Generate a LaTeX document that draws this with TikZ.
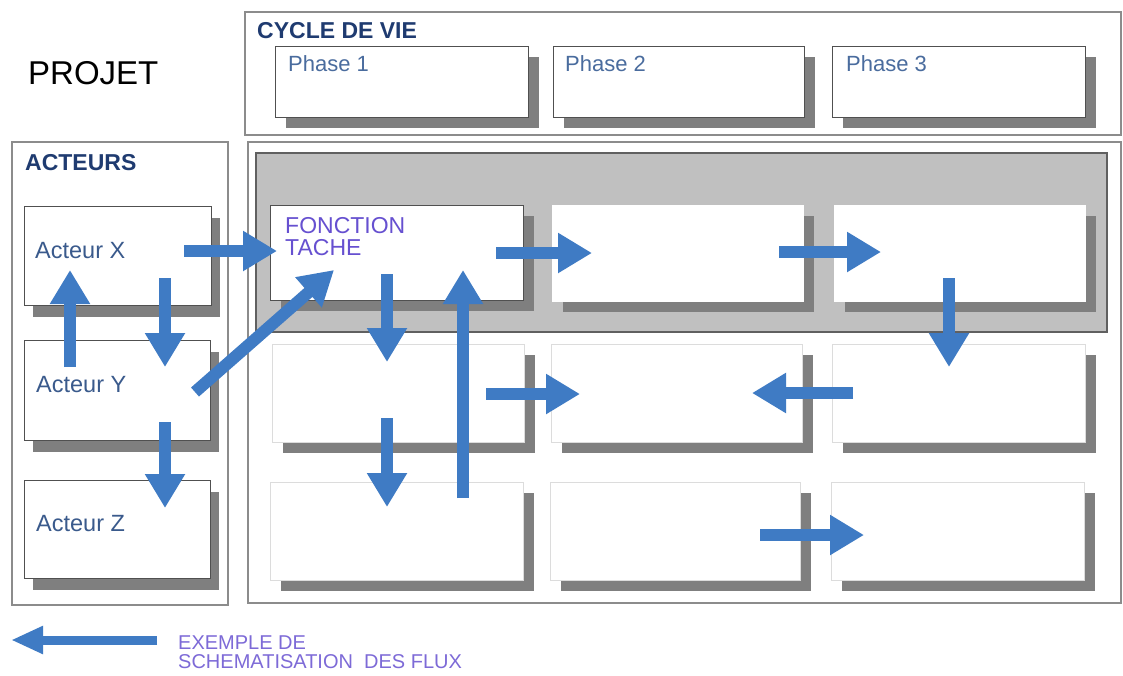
\documentclass[tikz,border=0pt]{standalone}
\usepackage{fontspec}
\setmainfont{Liberation Sans}
\usetikzlibrary{arrows.meta,shadows}
\definecolor{arrowblue}{HTML}{3F7BC4}
\definecolor{shgray}{HTML}{7F7F7F}
\definecolor{bandgray}{HTML}{C0C0C0}
\definecolor{banddraw}{HTML}{606060}
\definecolor{titleblue}{HTML}{1F3B70}
\definecolor{labelblue}{HTML}{3A5A8C}
\definecolor{phaseblue}{HTML}{4A6C9E}
\definecolor{purp}{HTML}{6650D0}
\definecolor{framegray}{HTML}{8C8C8C}
\definecolor{boxdark}{HTML}{505050}
\definecolor{boxlight}{HTML}{DCDCDC}
\begin{document}
\begin{tikzpicture}[x=1pt,y=-1pt,
  framebox/.style={draw=framegray, line width=1.2pt},
  sbox/.style={draw=#1, fill=white, line width=1pt, anchor=north west, inner sep=0pt, outer sep=0pt,
     drop shadow={shadow xshift=11pt, shadow yshift=-11pt, fill=shgray, opacity=1}},
  abox/.style={draw=#1, fill=white, line width=1pt, anchor=north west, inner sep=0pt, outer sep=0pt,
     drop shadow={shadow xshift=9pt, shadow yshift=-12pt, fill=shgray, opacity=1}},
  flow/.style={draw=arrowblue, line width=12pt, -{Triangle[width=38pt,length=34pt]}},
  legendflow/.style={draw=arrowblue, line width=9pt, -{Triangle[width=26pt,length=32pt]}},
  lbl/.style={anchor=base west, inner sep=0pt, text=labelblue, font=\fontsize{23.5}{27}\selectfont},
  phaselbl/.style={anchor=base west, inner sep=0pt, text=phaseblue, font=\fontsize{22}{26}\selectfont},
  ttl/.style={anchor=base west, inner sep=0pt, text=titleblue, font=\fontsize{23}{27}\selectfont\bfseries},
  purplbl/.style={anchor=base west, inner sep=0pt, text=purp, font=\fontsize{23}{27}\selectfont},
  leglbl/.style={anchor=base west, inner sep=0pt, text=purp!85!white, font=\fontsize{20}{22}\selectfont}
]
\useasboundingbox[fill=white] (0,0) rectangle (1123,675);

% frames
\draw[framebox] (245,12) rectangle (1121,135);
\draw[framebox] (12,142) rectangle (228,605);
\draw[framebox] (248,142) rectangle (1121,603);
\draw[draw=banddraw, fill=bandgray, line width=1.2pt] (256,153) rectangle (1107,332);

% titles
\node[anchor=base west, inner sep=0pt, font=\fontsize{33}{36}\selectfont] (projet) at (28,84) {PROJET};
\node[ttl] (cycle) at (257,38) {CYCLE DE VIE};
\node[ttl] (acteurs) at (25,170) {ACTEURS};

% phases
\node[sbox=boxdark, minimum width=253pt, minimum height=71pt] (p1) at (275,46) {};
\node[sbox=boxdark, minimum width=251pt, minimum height=71pt] (p2) at (553,46) {};
\node[sbox=boxdark, minimum width=253pt, minimum height=71pt] (p3) at (832,46) {};
\node[phaselbl] (p1t) at (288,71) {Phase 1};
\node[phaselbl] (p2t) at (565,71) {Phase 2};
\node[phaselbl] (p3t) at (846,71) {Phase 3};

% actors
\node[abox=boxdark, minimum width=187pt, minimum height=99pt] (ax) at (24,206) {};
\node[abox=boxdark, minimum width=186pt, minimum height=100pt] (ay) at (24,340) {};
\node[abox=boxdark, minimum width=186pt, minimum height=98pt] (az) at (24,480) {};
\node[lbl] (axt) at (35,258) {Acteur X};
\node[lbl] (ayt) at (36,392) {Acteur Y};
\node[lbl] (azt) at (36,531) {Acteur Z};

% grid
\node[sbox=boxdark, minimum width=253pt, minimum height=95pt] (f) at (270,205) {};
\node[sbox=white, minimum width=251pt, minimum height=96pt] (r1b2) at (552,205) {};
\node[sbox=white, minimum width=251pt, minimum height=96pt] (r1b3) at (834,205) {};
\node[sbox=boxlight, minimum width=252pt, minimum height=98pt] (r2b1) at (272,344) {};
\node[sbox=boxlight, minimum width=251pt, minimum height=98pt] (r2b2) at (551,344) {};
\node[sbox=boxlight, minimum width=253pt, minimum height=98pt] (r2b3) at (832,344) {};
\node[sbox=boxlight, minimum width=253pt, minimum height=98pt] (r3b1) at (270,482) {};
\node[sbox=boxlight, minimum width=250pt, minimum height=98pt] (r3b2) at (550,482) {};
\node[sbox=boxlight, minimum width=253pt, minimum height=98pt] (r3b3) at (831,482) {};
\node[purplbl] (ft1) at (285,233) {FONCTION};
\node[purplbl] (ft2) at (285,255) {TACHE};

% arrow end points
\coordinate (a1s) at (184,251);  \coordinate (a1e) at (277,251);
\coordinate (a2s) at (165,278);  \coordinate (a2e) at (165,367);
\coordinate (a3s) at (70,367);   \coordinate (a3e) at (70,270);
\coordinate (a4s) at (195,392);  \coordinate (a4e) at (334,270);
\coordinate (a5s) at (165,422);  \coordinate (a5e) at (165,508);
\coordinate (a6s) at (496,253);  \coordinate (a6e) at (592,253);
\coordinate (a7s) at (779,252);  \coordinate (a7e) at (881,252);
\coordinate (a8s) at (949,278);  \coordinate (a8e) at (949,367);
\coordinate (a9s) at (853,393);  \coordinate (a9e) at (752,393);
\coordinate (a10s) at (387,274); \coordinate (a10e) at (387,362);
\coordinate (a11s) at (486,394); \coordinate (a11e) at (580,394);
\coordinate (a12s) at (387,418); \coordinate (a12e) at (387,507);
\coordinate (a13s) at (463,498); \coordinate (a13e) at (463,270);
\coordinate (a14s) at (760,535); \coordinate (a14e) at (864,535);
\coordinate (a15s) at (157,640); \coordinate (a15e) at (11,640);

\foreach \i in {1,...,14} {\draw[flow] (a\i s) -- (a\i e);}
\draw[legendflow] (a15s) -- (a15e);

% legend
\node[leglbl] (lg1) at (178,649) {EXEMPLE DE};
\node[leglbl] (lg2) at (178,668) {SCHEMATISATION\ \ DES FLUX};
\end{tikzpicture}
\end{document}
